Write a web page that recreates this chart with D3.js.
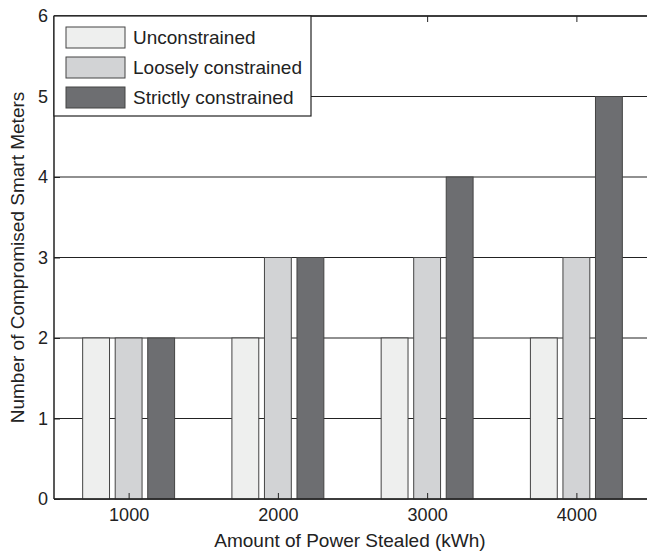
<!DOCTYPE html>
<html>
<head>
<meta charset="utf-8">
<script src="https://cdn.jsdelivr.net/npm/d3@7"></script>
<style>
  body { margin: 0; background: #fff; }
  svg { display: block; font-family: "Liberation Sans", Arial, sans-serif; }
</style>
</head>
<body>
<div id="chart"></div>
<script>
// Grouped bar chart: compromised meters vs stolen energy
const categories = [1000, 2000, 3000, 4000];
const seriesNames = ['Unconstrained', 'Loosely constrained', 'Strictly constrained'];
const unconstrained = [2, 2, 2, 2];
const looselyConstrained = [2, 3, 3, 3];
const strictlyConstrained = [2, 3, 4, 5];
const yTicks = [0, 1, 2, 3, 4, 5, 6];

const seriesValues = [unconstrained, looselyConstrained, strictlyConstrained];
const fills = ['#eeefee', '#d2d3d5', '#6d6e71'];

const W = 647, H = 552;
const M = { top: 16, right: -4, bottom: 53, left: 54 };
const iW = W - M.left - M.right;
const iH = H - M.top - M.bottom;

const svg = d3.select('#chart').append('svg')
    .attr('width', W).attr('height', H);

const g = svg.append('g').attr('transform', `translate(${M.left},${M.top})`);

const x = d3.scaleLinear().domain([500, 4500]).range([0, iW]);
const y = d3.scaleLinear().domain([0, 6]).range([iH, 0]);

// offsets of each bar within a group (data units)
const step = 218, barW = 180;
const offset = i => (i - 1) * step;

// Grid
g.append('g').selectAll('line')
    .data(yTicks).enter().append('line')
    .attr('x1', 0).attr('x2', iW)
    .attr('y1', d => y(d)).attr('y2', d => y(d))
    .attr('stroke', '#222').attr('stroke-width', 1.2);

// Bars
seriesValues.forEach((vals, i) => {
    g.append('g').selectAll('rect')
        .data(vals).enter().append('rect')
        .attr('x', (d, j) => x(categories[j] + offset(i) - barW / 2))
        .attr('width', x(barW) - x(0))
        .attr('y', d => y(d))
        .attr('height', d => iH - y(d))
        .attr('fill', fills[i])
        .attr('stroke', '#444').attr('stroke-width', 1);
});

// Axes (ticks inward)
const xAxisBottom = g.append('g').attr('transform', `translate(0,${iH})`)
    .call(d3.axisBottom(x).tickValues(categories).tickSize(-6).tickPadding(9).tickFormat(d3.format('d')));
const yAxisLeft = g.append('g')
    .call(d3.axisLeft(y).tickValues(yTicks).tickSize(-6).tickPadding(6).tickFormat(d3.format('d')));
const xAxisTop = g.append('g')
    .call(d3.axisTop(x).tickValues(categories).tickSize(-6).tickFormat(''));
[xAxisBottom, yAxisLeft, xAxisTop].forEach(a => {
    a.attr('font-size', 18).attr('font-family', 'Liberation Sans, Arial, sans-serif');
    a.selectAll('text').attr('fill', '#222');
    a.selectAll('line').attr('stroke', '#222');
    a.select('.domain').attr('stroke', '#222').attr('stroke-width', 1.5);
});
xAxisBottom.select('.domain').attr('d', `M0,0H${iW}`);
yAxisLeft.select('.domain').attr('d', `M0,0V${iH}`);
xAxisTop.select('.domain').attr('d', `M0,0H${iW}`);

// Axis labels
svg.append('text')
    .attr('x', 350).attr('y', 547)
    .attr('text-anchor', 'middle').attr('font-size', 19).attr('fill', '#222')
    .text('Amount of Power Stealed (kWh)');
svg.append('text')
    .attr('transform', `translate(24,${M.top + iH / 2}) rotate(-90)`)
    .attr('text-anchor', 'middle').attr('font-size', 19).attr('fill', '#222')
    .text('Number of Compromised Smart Meters');

// Legend
const lg = svg.append('g').attr('transform', 'translate(54,16)');
lg.append('rect').attr('x', 0).attr('y', 0).attr('width', 257).attr('height', 100)
    .attr('fill', '#fff').attr('stroke', '#222').attr('stroke-width', 1.2);
seriesNames.forEach((name, i) => {
    const row = lg.append('g').attr('transform', `translate(12,${11 + i * 30})`);
    row.append('rect').attr('width', 59).attr('height', 21)
        .attr('fill', fills[i]).attr('stroke', '#444').attr('stroke-width', 1);
    row.append('text').attr('x', 67).attr('y', 17)
        .attr('font-size', 19).attr('fill', '#222').text(name);
});
</script>
</body>
</html>
